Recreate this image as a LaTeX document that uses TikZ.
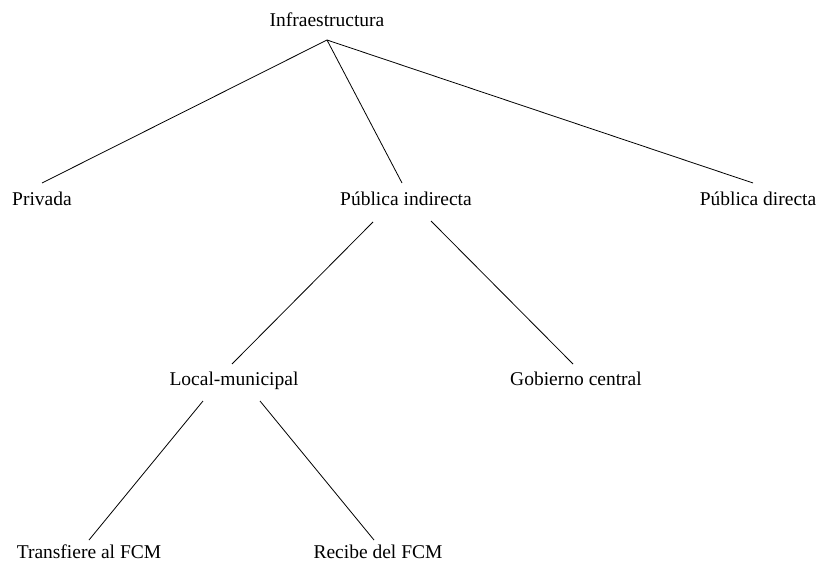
\documentclass[tikz,border=0pt]{standalone}
\usepackage{fontspec}
\setmainfont{Liberation Serif}
\usetikzlibrary{calc}
\begin{document}
\begin{tikzpicture}[x=1pt,y=-1pt,
  lbl/.style={anchor=base,inner sep=0pt,font=\fontsize{19.5}{23}\selectfont},
  edge/.style={line width=0.8pt}]
\useasboundingbox (0,0) rectangle (821,564);
\node[lbl] (inf) at (327,27) {Infraestructura};
\node[lbl] (pri) at (42,205) {Privada};
\node[lbl] (pin) at (406,205) {Pública indirecta};
\node[lbl] (pdi) at (758,205) {Pública directa};
\node[lbl] (loc) at (234,385) {Local-municipal};
\node[lbl] (gob) at (576,385) {Gobierno central};
\node[lbl] (tra) at (89,558) {Transfiere al FCM};
\node[lbl] (rec) at (378,558) {Recibe del FCM};
\coordinate (root) at ($(inf.base)+(0,13)$);
\draw[edge] (root) -- ($(pri.base)+(0,-22)$);
\draw[edge] (root) -- ($(pin.base)+(-4,-22)$);
\draw[edge] (root) -- ($(pdi.base)+(-5,-22)$);
\draw[edge] ($(pin.base)+(-33,17)$) -- ($(loc.base)+(-2,-21)$);
\draw[edge] ($(pin.base)+(25,16)$) -- ($(gob.base)+(-3,-21)$);
\draw[edge] ($(loc.base)+(-31,16)$) -- ($(tra.base)+(0,-18)$);
\draw[edge] ($(loc.base)+(26,16)$) -- ($(rec.base)+(-4,-18)$);
\end{tikzpicture}
\end{document}
